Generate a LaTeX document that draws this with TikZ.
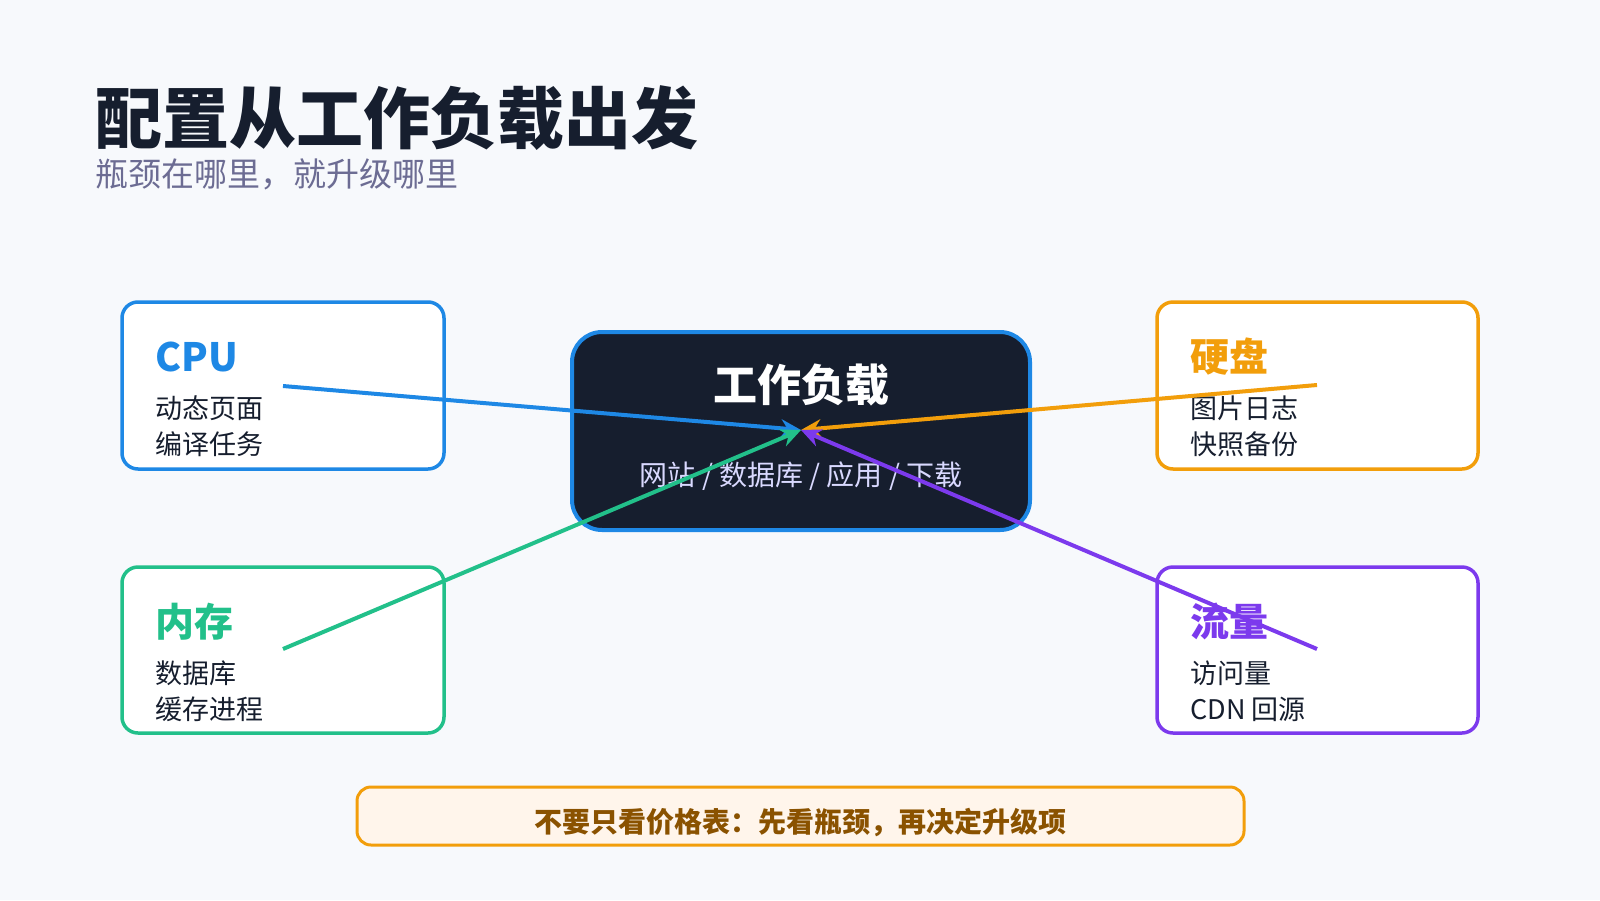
\documentclass[tikz,border=0pt]{standalone}
\usepackage{fontspec}
\setmainfont{Noto Sans CJK SC}
\usetikzlibrary{arrows.meta}
\definecolor{bgc}{HTML}{F7F9FC}
\definecolor{ink}{HTML}{161E2E}
\definecolor{cblue}{HTML}{1E88E5}
\definecolor{corange}{HTML}{F29E0B}
\definecolor{cgreen}{HTML}{22C08A}
\definecolor{cpurple}{HTML}{7C3AED}
\definecolor{cbrown}{HTML}{8A5200}
\tikzset{
  card/.style={draw=#1, line width=3.5pt, fill=white, rounded corners=16pt},
  head/.style={anchor=base west, inner sep=0pt, font=\fontsize{39}{39}\selectfont\bfseries},
  item/.style={anchor=base west, inner sep=0pt, font=\fontsize{27}{27}\selectfont, text=ink},
  link/.style={draw=#1, line width=4pt, -{Stealth[length=20pt,width=18pt]}}
}
\begin{document}
\begin{tikzpicture}[x=1pt,y=-1pt]
\fill[bgc] (0,0) rectangle (1600,900);
\useasboundingbox (0,0) rectangle (1600,900);

% title
\node (title) [anchor=base west, inner sep=0pt, text=ink, font=\fontsize{67}{67}\selectfont\bfseries] at (95,143) {配置从工作负载出发};
\node (sub) [anchor=base west, inner sep=0pt, text=gray!85!blue, font=\fontsize{33}{33}\selectfont] at (95,186) {瓶颈在哪里，就升级哪里};

% cards
\draw[card=cblue] (122,302) rectangle (444,469);
\draw[card=corange] (1157,302) rectangle (1478,469);
\draw[card=cgreen] (122,567) rectangle (444,733);
\draw[card=cpurple] (1157,567) rectangle (1478,733);

\node (cpu) [head, text=cblue] at (155,371) {CPU};
\node [item] at (155,418) {动态页面};
\node [item] at (155,454) {编译任务};
\node (disk) [head, text=corange] at (1190,371) {硬盘};
\node [item] at (1190,418) {图片日志};
\node [item] at (1190,454) {快照备份};
\node (mem) [head, text=cgreen] at (155,636) {内存};
\node [item] at (155,683) {数据库};
\node [item] at (155,719) {缓存进程};
\node (net) [head, text=cpurple] at (1190,636) {流量};
\node [item] at (1190,683) {访问量};
\node [item] at (1190,719) {CDN 回源};

% hub
\draw[draw=cblue, line width=4pt, fill=ink, rounded corners=30pt] (572,332) rectangle (1030,530);
\node (load) [text=white, font=\fontsize{44}{44}\selectfont\bfseries] at (801,385) {工作负载};
\node (kinds) [text=blue!15!white, font=\fontsize{28}{28}\selectfont] at (801,476) {网站 / 数据库 / 应用 / 下载};
\coordinate (hub) at (801,430);

% links
\coordinate (cpuend) at (283,386);
\coordinate (diskend) at (1317,385);
\coordinate (memend) at (283,649);
\coordinate (netend) at (1317,649);
\draw[link=cblue] (cpuend) -- (hub);
\draw[link=corange] (diskend) -- (hub);
\draw[link=cgreen] (memend) -- (hub);
\draw[link=cpurple] (netend) -- (hub);

% note
\draw[draw=corange, line width=3pt, fill=orange!8!white, rounded corners=14pt] (357,787) rectangle (1244,845);
\node (note) [text=cbrown, font=\fontsize{28}{28}\selectfont\bfseries] at (800,823) {不要只看价格表：先看瓶颈，再决定升级项};
\end{tikzpicture}
\end{document}
